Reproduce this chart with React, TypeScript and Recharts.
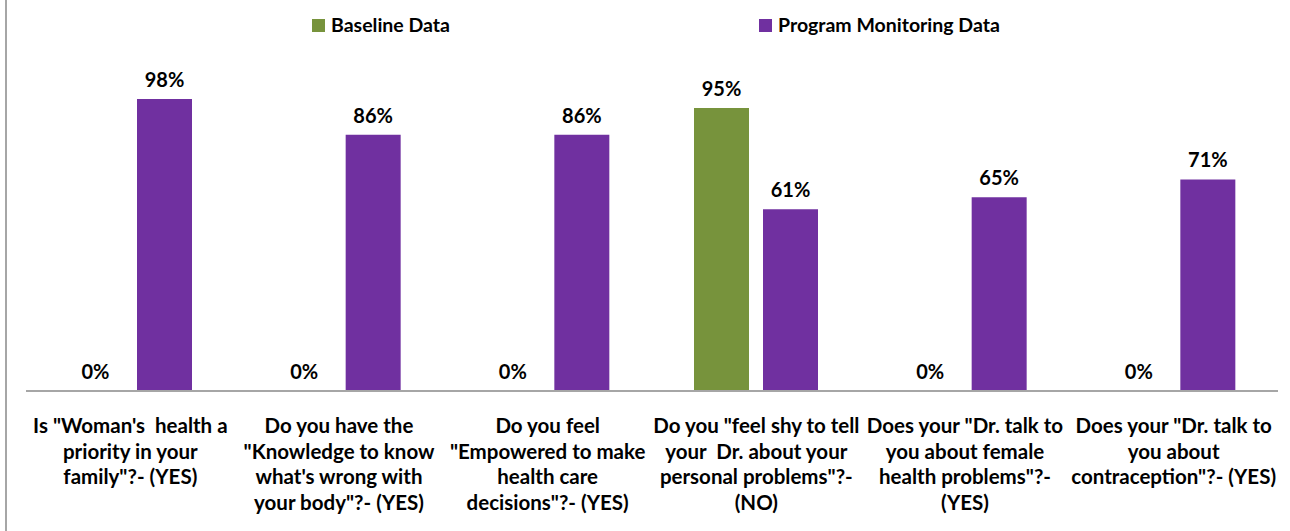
import React from "react";
import { BarChart, Bar, XAxis, YAxis, Legend, LabelList } from "recharts";

const questionLines = [
  ['Is "Woman\'s  health a', "priority in your", 'family"?- (YES)'],
  ["Do you have the", '"Knowledge to know', "what's wrong with", 'your body"?- (YES)'],
  ["Do you feel", '"Empowered to make', "health care", 'decisions"?- (YES)'],
  ['Do you "feel shy to tell', "your  Dr. about your", 'personal problems"?-', "(NO)"],
  ['Does your "Dr. talk to', "you about female", 'health problems"?-', "(YES)"],
  ['Does your "Dr. talk to', "you about", 'contraception"?- (YES)'],
];
const baselineValues = [0, 0, 0, 95, 0, 0];
const monitoringValues = [98, 86, 86, 61, 65, 71];

const GREEN = "#77933C";
const PURPLE = "#7030A0";
const FONT = "Lato, 'Liberation Sans', sans-serif";

const data = questionLines.map((lines, i) => ({
  name: lines.join(" "),
  baseline: baselineValues[i],
  monitoring: monitoringValues[i],
}));

// eslint-disable-next-line @typescript-eslint/no-explicit-any
const QuestionTick = (props: any) => {
  const { x, y, index } = props;
  const lines = questionLines[index] || [];
  return (
    <text
      x={x}
      y={y}
      textAnchor="middle"
      fill="#000"
      fontFamily={FONT}
      fontWeight="bold"
      fontSize={20.5}
      style={{ whiteSpace: "pre" }}
    >
      {lines.map((l, i) => (
        <tspan key={i} x={x} dy={i === 0 ? 34 : 25.6}>
          {l}
        </tspan>
      ))}
    </text>
  );
};

// eslint-disable-next-line @typescript-eslint/no-explicit-any
const TopLegend = (props: any) => {
  const { payload = [] } = props;
  const lefts = [312, 759];
  return (
    <div style={{ position: "relative", width: 1290, height: 40 }}>
      {/* eslint-disable-next-line @typescript-eslint/no-explicit-any */}
      {payload.map((p: any, i: number) => (
        <div
          key={p.value}
          style={{
            position: "absolute",
            left: lefts[i],
            top: 17,
            display: "flex",
            alignItems: "center",
            fontFamily: FONT,
            fontWeight: "bold",
            fontSize: 19.5,
            color: "#000",
            lineHeight: "16px",
          }}
        >
          <span style={{ width: 13, height: 13, background: p.color, marginRight: 6, display: "inline-block" }} />
          {p.value}
        </div>
      ))}
    </div>
  );
};

const labelStyle = { fontFamily: FONT, fontWeight: "bold", fontSize: 20 };

export default function App() {
  return (
    <div
      style={{
        position: "absolute",
        left: 0,
        top: 0,
        width: 1290,
        height: 531,
        background: "#fff",
      }}
    >
      <div style={{ position: "absolute", left: 5, top: 0, width: 2, height: 531, background: "#a6a6a6" }} />
      <BarChart
        width={1290}
        height={531}
        data={data}
        margin={{ top: 53, right: 12, bottom: 0, left: 26 }}
        barSize={55}
        barGap={14}
      >
        <Legend
          verticalAlign="top"
          content={<TopLegend />}
          wrapperStyle={{ top: 0, left: 0, width: 1290, height: 40 }}
        />
        <YAxis hide domain={[0, 100]} />
        <XAxis
          dataKey="name"
          height={140}
          interval={0}
          tickLine={false}
          axisLine={{ stroke: "#a6a6a6", strokeWidth: 2 }}
          tick={<QuestionTick />}
        />
        <Bar
          dataKey="baseline"
          name="Baseline Data"
          fill={GREEN}
          minPointSize={0.01}
          isAnimationActive={false}
        >
          <LabelList
            dataKey="baseline"
            position="top"
            offset={12}
            fill="#000"
            formatter={(v: number) => `${v}%`}
            style={labelStyle}
          />
        </Bar>
        <Bar
          dataKey="monitoring"
          name="Program Monitoring Data"
          fill={PURPLE}
          isAnimationActive={false}
        >
          <LabelList
            dataKey="monitoring"
            position="top"
            offset={12}
            fill="#000"
            formatter={(v: number) => `${v}%`}
            style={labelStyle}
          />
        </Bar>
      </BarChart>
    </div>
  );
}
